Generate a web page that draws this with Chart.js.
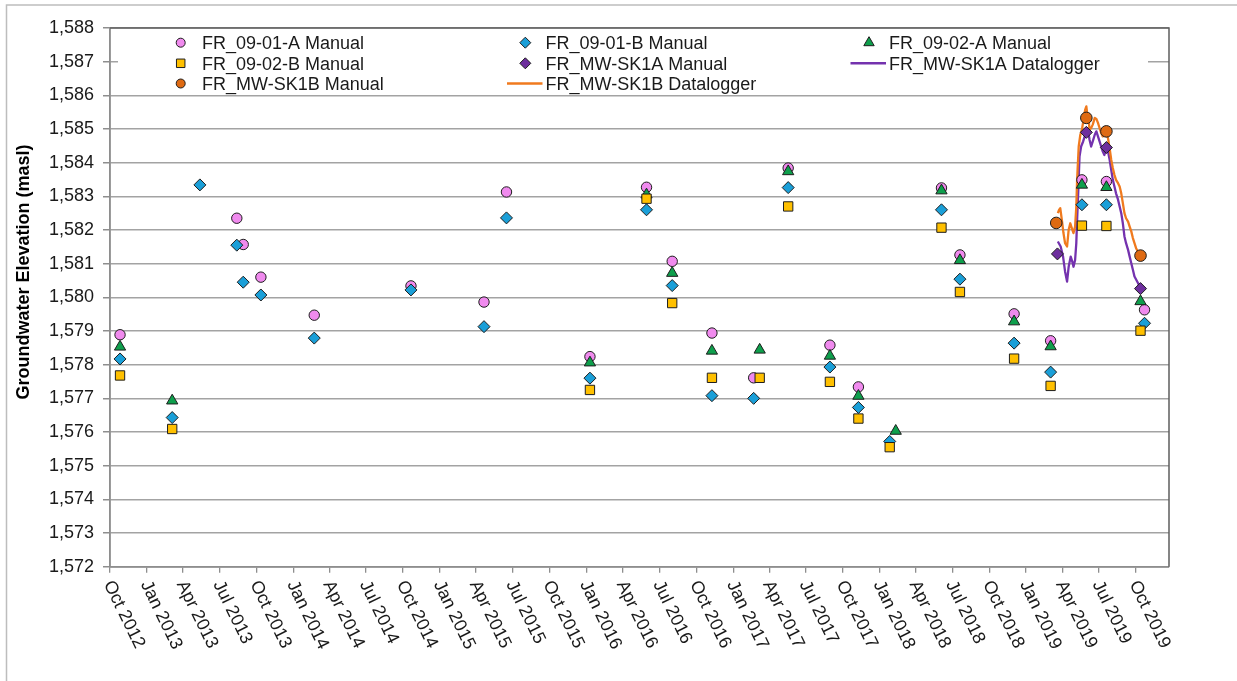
<!DOCTYPE html>
<html>
<head>
<meta charset="utf-8">
<title>Groundwater Elevation</title>
<script src="https://cdn.jsdelivr.net/npm/chart.js@4.4.1/dist/chart.umd.min.js"></script>
<style>
  html, body { margin: 0; padding: 0; background: #ffffff; }
  #wrap { position: relative; width: 1237px; height: 681px; }
  canvas { display: block; }
</style>
</head>
<body>
<div id="wrap"><canvas id="chart" width="1237" height="681"></canvas></div>
<script>
// ---- Manual readings (date, elevation in masl) ----
const fr0901aDates = ['2012-10-26','2013-08-13','2013-08-29','2013-10-12','2014-02-22','2014-10-21','2015-04-21','2015-06-16','2016-01-10','2016-05-30','2016-08-02','2016-11-09','2017-02-21','2017-05-18','2017-08-30','2017-11-09','2018-06-04','2018-07-20','2018-12-02','2019-03-03','2019-05-20','2019-07-20','2019-10-23'];
const fr0901aLevels = [1578.89,1582.35,1581.57,1580.60,1579.47,1580.34,1579.86,1583.13,1578.24,1583.27,1581.07,1578.94,1577.61,1583.84,1578.58,1577.34,1583.25,1581.26,1579.51,1578.71,1583.49,1583.44,1579.63];

const fr0901bDates = ['2012-10-26','2013-03-05','2013-05-13','2013-08-13','2013-08-29','2013-10-12','2014-02-22','2014-10-21','2015-04-21','2015-06-16','2016-01-10','2016-05-30','2016-08-02','2016-11-09','2017-02-21','2017-05-18','2017-08-30','2017-11-09','2018-01-26','2018-06-04','2018-07-20','2018-12-02','2019-03-03','2019-05-20','2019-07-20','2019-10-23'];
const fr0901bLevels = [1578.17,1576.43,1583.34,1581.55,1580.45,1580.07,1578.79,1580.22,1579.13,1582.36,1577.60,1582.60,1580.35,1577.08,1577.00,1583.26,1577.93,1576.73,1575.72,1582.60,1580.54,1578.64,1577.78,1582.75,1582.75,1579.23];

const fr0902aDates = ['2012-10-26','2013-03-05','2016-01-10','2016-05-30','2016-08-02','2016-11-09','2017-03-08','2017-05-18','2017-08-30','2017-11-09','2018-02-10','2018-06-04','2018-07-20','2018-12-02','2019-03-03','2019-05-20','2019-07-20','2019-10-13'];
const fr0902aLevels = [1578.53,1576.93,1578.06,1583.05,1580.72,1578.41,1578.44,1583.74,1578.26,1577.07,1576.03,1583.17,1581.10,1579.28,1578.54,1583.34,1583.27,1579.88];

const fr0902bDates = ['2012-10-26','2013-03-05','2016-01-10','2016-05-30','2016-08-02','2016-11-09','2017-03-08','2017-05-18','2017-08-30','2017-11-09','2018-01-26','2018-06-04','2018-07-20','2018-12-02','2019-03-03','2019-05-20','2019-07-20','2019-10-13'];
const fr0902bLevels = [1577.68,1576.09,1577.25,1582.93,1579.83,1577.61,1577.61,1582.70,1577.49,1576.40,1575.55,1582.07,1580.16,1578.18,1577.37,1582.13,1582.12,1579.01];

const sk1aManualDates = ['2019-03-20','2019-05-31','2019-07-20','2019-10-13'];
const sk1aManualLevels = [1581.29,1584.90,1584.45,1580.26];

const sk1bManualDates = ['2019-03-17','2019-05-31','2019-07-20','2019-10-13'];
const sk1bManualLevels = [1582.21,1585.33,1584.93,1581.24];

// ---- Datalogger records ----
const sk1aLoggerDates = ['2019-03-21','2019-03-28','2019-04-03','2019-04-08','2019-04-13','2019-04-17','2019-04-22','2019-04-26','2019-04-29','2019-05-03','2019-05-06','2019-05-08','2019-05-11','2019-05-14','2019-05-18','2019-05-23','2019-05-27','2019-05-31','2019-06-04','2019-06-08','2019-06-12','2019-06-16','2019-06-21','2019-06-25','2019-06-29','2019-07-03','2019-07-07','2019-07-11','2019-07-15','2019-07-20','2019-07-24','2019-07-28','2019-08-01','2019-08-05','2019-08-09','2019-08-13','2019-08-18','2019-08-22','2019-08-26','2019-08-30','2019-09-03','2019-09-07','2019-09-12','2019-09-16','2019-09-20','2019-09-24','2019-09-28','2019-10-07','2019-10-13'];
const sk1aLoggerLevels = [1581.66,1581.51,1581.21,1580.77,1580.47,1580.91,1581.21,1581.06,1580.91,1581.11,1581.61,1582.30,1583.19,1584.18,1584.48,1584.63,1584.78,1584.93,1584.98,1584.68,1584.48,1584.63,1584.83,1584.93,1584.78,1584.63,1584.48,1584.33,1584.23,1584.43,1584.33,1584.09,1583.79,1583.49,1583.29,1583.09,1582.90,1582.70,1582.50,1582.20,1581.81,1581.61,1581.41,1581.21,1581.01,1580.82,1580.62,1580.42,1580.27];

const sk1bLoggerDates = ['2019-03-21','2019-03-24','2019-03-27','2019-03-31','2019-04-04','2019-04-08','2019-04-13','2019-04-17','2019-04-21','2019-04-25','2019-04-29','2019-05-03','2019-05-06','2019-05-08','2019-05-12','2019-05-16','2019-05-20','2019-05-24','2019-05-28','2019-05-31','2019-06-02','2019-06-06','2019-06-08','2019-06-12','2019-06-16','2019-06-21','2019-06-25','2019-06-29','2019-07-03','2019-07-07','2019-07-11','2019-07-15','2019-07-20','2019-07-24','2019-07-28','2019-08-01','2019-08-05','2019-08-09','2019-08-13','2019-08-18','2019-08-22','2019-08-26','2019-08-30','2019-09-03','2019-09-07','2019-09-12','2019-09-16','2019-09-20','2019-09-24','2019-09-28','2019-10-02','2019-10-11'];
const sk1bLoggerLevels = [1582.50,1582.60,1582.65,1582.30,1581.91,1581.61,1581.51,1582.01,1582.20,1582.05,1581.91,1582.10,1582.70,1583.49,1584.48,1584.83,1584.98,1585.27,1585.57,1585.67,1585.47,1585.23,1584.98,1585.03,1585.13,1585.33,1585.30,1585.18,1585.03,1584.88,1584.78,1584.83,1584.88,1584.73,1584.43,1584.09,1583.84,1583.64,1583.49,1583.39,1583.29,1583.09,1582.80,1582.50,1582.35,1582.25,1582.10,1581.96,1581.76,1581.61,1581.46,1581.26];

// ---- Axis settings ----
const xStart = '2012-10-01';
const xEnd = '2019-12-23';
const tickMonths = ['Jan', 'Apr', 'Jul', 'Oct'];
const yMin = 1572, yMax = 1588;
const yTitle = 'Groundwater Elevation (masl)';

const toTime = s => Date.parse(s + 'T00:00:00Z');
const pairs = (dates, levels) => dates.map((d, i) => ({ x: toTime(d), y: levels[i] }));

const FONT = "'Liberation Sans', Arial, 'DejaVu Sans', sans-serif";
const EDGE = '#1e1e1e';

// quarter-start tick values between the axis limits
function quarterTicks(min, max) {
  const out = [];
  const d0 = new Date(min);
  let y = d0.getUTCFullYear(), m = d0.getUTCMonth();
  while (true) {
    const t = Date.UTC(y, m, 1);
    if (t > max) break;
    if (t >= min) out.push({ value: t });
    m += 3;
    if (m > 11) { m -= 12; y += 1; }
  }
  return out;
}

const datasets = [
  { label: 'FR_09-01-A Manual', data: pairs(fr0901aDates, fr0901aLevels), pointStyle: 'circle', pointRadius: 5.2,
    backgroundColor: '#F08AEE', borderColor: EDGE, borderWidth: 1, showLine: false, order: 8, legend: { col: 0, row: 0, size: 4.5 } },
  { label: 'FR_09-01-B Manual', data: pairs(fr0901bDates, fr0901bLevels), pointStyle: 'rectRot', pointRadius: 6,
    backgroundColor: '#1A9FD8', borderColor: EDGE, borderWidth: 1, showLine: false, order: 7, legend: { col: 1, row: 0, size: 5.5 } },
  { label: 'FR_09-02-A Manual', data: pairs(fr0902aDates, fr0902aLevels), pointStyle: 'triangle', pointRadius: 6.5,
    backgroundColor: '#0E9F4C', borderColor: EDGE, borderWidth: 1, showLine: false, order: 6, legend: { col: 2, row: 0, size: 6 } },
  { label: 'FR_09-02-B Manual', data: pairs(fr0902bDates, fr0902bLevels), pointStyle: 'rect', pointRadius: 6.6,
    backgroundColor: '#FFC000', borderColor: EDGE, borderWidth: 1, showLine: false, order: 5, legend: { col: 0, row: 1, size: 6 } },
  { label: 'FR_MW-SK1A Manual', data: pairs(sk1aManualDates, sk1aManualLevels), pointStyle: 'rectRot', pointRadius: 6,
    backgroundColor: '#6E2F9E', borderColor: EDGE, borderWidth: 1, showLine: false, order: 3, legend: { col: 1, row: 1, size: 5.5 } },
  { label: 'FR_MW-SK1A Datalogger', data: pairs(sk1aLoggerDates, sk1aLoggerLevels), pointRadius: 0,
    borderColor: '#7432AE', backgroundColor: '#7432AE', borderWidth: 2.3, showLine: true, tension: 0, order: 11, legend: { col: 2, row: 1, line: true } },
  { label: 'FR_MW-SK1B Manual', data: pairs(sk1bManualDates, sk1bManualLevels), pointStyle: 'circle', pointRadius: 5.8,
    backgroundColor: '#DF6A12', borderColor: EDGE, borderWidth: 1, showLine: false, order: 4, legend: { col: 0, row: 2, size: 4.5 } },
  { label: 'FR_MW-SK1B Datalogger', data: pairs(sk1bLoggerDates, sk1bLoggerLevels), pointRadius: 0,
    borderColor: '#F07A1E', backgroundColor: '#F07A1E', borderWidth: 2.3, showLine: true, tension: 0, order: 10, legend: { col: 1, row: 2, line: true } }
];

function markerPath(ctx, style, x, y, r) {
  ctx.beginPath();
  if (style === 'circle') {
    ctx.arc(x, y, r, 0, Math.PI * 2);
  } else if (style === 'rectRot') {
    ctx.moveTo(x, y - r); ctx.lineTo(x + r, y); ctx.lineTo(x, y + r); ctx.lineTo(x - r, y);
  } else if (style === 'triangle') {
    const h = r * Math.cos(Math.PI / 6);
    ctx.moveTo(x, y - r); ctx.lineTo(x + h, y + r / 2); ctx.lineTo(x - h, y + r / 2);
  } else {
    const s = r * Math.SQRT1_2;
    ctx.rect(x - s, y - s, 2 * s, 2 * s);
  }
  ctx.closePath();
}

// frame, plot border, rotated date labels, axis title and legend
const decorations = {
  id: 'decorations',
  beforeDraw(chart) {
    const ctx = chart.ctx;
    ctx.save();
    ctx.fillStyle = '#ffffff';
    ctx.fillRect(0, 0, chart.width, chart.height);
    ctx.strokeStyle = '#BDBDBD';
    ctx.lineWidth = 1.5;
    ctx.strokeRect(6.5, 5, chart.width + 40, chart.height + 40);
    ctx.restore();
  },
  afterDatasetsDraw(chart) {
    const ctx = chart.ctx;
    const a = chart.chartArea;
    const xs = chart.scales.x;

    // plot area outline
    ctx.save();
    ctx.strokeStyle = '#8E8E8E';
    ctx.lineWidth = 1.5;
    ctx.beginPath();
    ctx.moveTo(a.left, a.top); ctx.lineTo(a.left, a.bottom); ctx.lineTo(a.right, a.bottom);
    ctx.stroke();
    ctx.strokeStyle = '#5E5E5E';
    ctx.beginPath();
    ctx.moveTo(a.left, a.top); ctx.lineTo(a.right, a.top); ctx.lineTo(a.right, a.bottom);
    ctx.stroke();
    ctx.restore();

    // date labels, rotated downward
    ctx.save();
    ctx.fillStyle = '#1a1a1a';
    ctx.font = '18px ' + FONT;
    ctx.textAlign = 'left';
    ctx.textBaseline = 'middle';
    xs.ticks.forEach(t => {
      const d = new Date(t.value);
      const label = tickMonths[Math.floor(d.getUTCMonth() / 3)] + ' ' + d.getUTCFullYear();
      const px = xs.getPixelForValue(t.value);
      ctx.save();
      ctx.translate(px - 2, a.bottom + 15);
      ctx.rotate(64 * Math.PI / 180);
      ctx.fillText(label, 0, 0);
      ctx.restore();
    });
    ctx.restore();

    // y-axis title
    ctx.save();
    ctx.fillStyle = '#000000';
    ctx.font = 'bold 18px ' + FONT;
    ctx.textAlign = 'center';
    ctx.textBaseline = 'middle';
    ctx.translate(24.5, 272);
    ctx.rotate(-Math.PI / 2);
    ctx.fillText(yTitle, 0, 0);
    ctx.restore();

    // legend
    const colMarker = [180.7, 525.3, 869];
    const colText = [202, 545.5, 889];
    const rowMid = [42.7, 63.3, 83.5];
    const rowBase = [49.4, 70, 90.2];
    ctx.save();
    ctx.fillStyle = '#ffffff';
    ctx.fillRect(118, 30, 1148 - 118, 63);
    ctx.font = '18px ' + FONT;
    ctx.textAlign = 'left';
    ctx.textBaseline = 'alphabetic';
    chart.data.datasets.forEach(ds => {
      const L = ds.legend;
      const y = rowMid[L.row];
      if (L.line) {
        ctx.strokeStyle = ds.borderColor;
        ctx.lineWidth = 2.5;
        ctx.beginPath();
        ctx.moveTo(colText[L.col] - 38.5, y);
        ctx.lineTo(colText[L.col] - 3, y);
        ctx.stroke();
      } else {
        markerPath(ctx, ds.pointStyle, colMarker[L.col], y, L.size);
        ctx.fillStyle = ds.backgroundColor;
        ctx.fill();
        ctx.strokeStyle = EDGE;
        ctx.lineWidth = 1;
        ctx.stroke();
      }
      ctx.fillStyle = '#1a1a1a';
      ctx.fillText(ds.label, colText[L.col], rowBase[L.row]);
    });
    ctx.restore();
  }
};

new Chart(document.getElementById('chart'), {
  type: 'scatter',
  data: { datasets },
  options: {
    responsive: false,
    animation: false,
    events: [],
    devicePixelRatio: 1,
    layout: { padding: { top: 28, right: 68, left: 0, bottom: 0 } },
    plugins: { legend: { display: false }, tooltip: { enabled: false } },
    elements: { line: { borderJoinStyle: 'round' } },
    scales: {
      x: {
        type: 'linear',
        min: toTime(xStart),
        max: toTime(xEnd),
        afterBuildTicks(scale) { scale.ticks = quarterTicks(scale.min, scale.max); },
        afterFit(scale) { scale.height = 114.3; },
        ticks: { display: false, autoSkip: false },
        grid: { display: true, drawOnChartArea: false, drawTicks: true, tickLength: 6, color: '#8E8E8E', lineWidth: 1.3 },
        border: { display: true, color: '#8E8E8E', width: 1.5 }
      },
      y: {
        min: yMin,
        max: yMax,
        afterFit(scale) { scale.width = 110; },
        ticks: {
          stepSize: 1,
          padding: 9,
          color: '#1a1a1a',
          font: { family: FONT, size: 18 },
          callback: v => v.toLocaleString('en-US')
        },
        grid: { color: '#A3A3A3', lineWidth: 1.5, tickLength: 7, tickColor: '#8E8E8E' },
        border: { display: true, color: '#8E8E8E', width: 1.5 }
      }
    }
  },
  plugins: [decorations]
});
</script>
</body>
</html>
